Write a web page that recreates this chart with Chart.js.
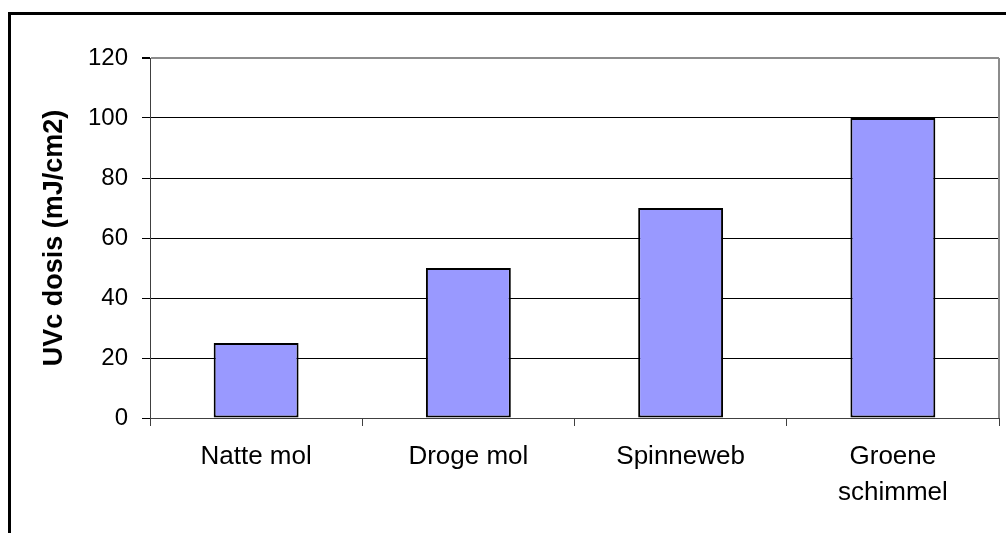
<!DOCTYPE html>
<html>
<head>
<meta charset="utf-8">
<script src="https://cdn.jsdelivr.net/npm/chart.js@4/dist/chart.umd.min.js"></script>
<style>
  html, body { margin: 0; padding: 0; background: #fff; }
  canvas { display: block; }
</style>
</head>
<body>
<canvas id="uvcChart" width="1006" height="533"></canvas>
<script>
// data
const categories = ["Natte mol", "Droge mol", "Spinneweb", ["Groene", "schimmel"]];
const doseValues = [25, 50, 70, 100];
const yTicks = [0, 20, 40, 60, 80, 100, 120];
const yTitle = "UVc dosis (mJ/cm2)";

const FONT = "'Liberation Sans', Arial, sans-serif";

// outer frame + grey plot border
const framePlugin = {
  id: "frame",
  beforeDraw(chart) {
    const ctx = chart.ctx;
    ctx.save();
    ctx.fillStyle = "#fff";
    ctx.fillRect(0, 0, chart.width, chart.height);
    ctx.restore();
  },
  afterDatasetsDraw(chart) {
    const { ctx, chartArea } = chart;
    ctx.save();
    ctx.strokeStyle = "#8c8c8c";
    ctx.lineWidth = 2;
    ctx.beginPath();
    ctx.moveTo(chartArea.right, chartArea.top);
    ctx.lineTo(chartArea.right, chartArea.bottom);
    ctx.stroke();
    ctx.strokeStyle = "#000";
    ctx.lineWidth = 3;
    ctx.strokeRect(9.5, 13.5, chart.width + 20, chart.height + 20);
    ctx.restore();
  },
};

const ctx = document.getElementById("uvcChart").getContext("2d");
new Chart(ctx, {
  type: "bar",
  data: {
    labels: categories,
    datasets: [
      {
        data: doseValues,
        backgroundColor: "#9999ff",
        borderColor: "#000",
        borderWidth: 2,
        borderSkipped: false,
        barPercentage: 0.4,
        categoryPercentage: 1,
      },
    ],
  },
  options: {
    responsive: false,
    animation: false,
    devicePixelRatio: 1,
    layout: { padding: { left: 0, top: 58, right: 7, bottom: 0 } },
    plugins: {
      legend: { display: false },
      tooltip: { enabled: false },
    },
    scales: {
      x: {
        offset: true,
        grid: {
          offset: true,
          drawOnChartArea: false,
          drawTicks: true,
          tickLength: 8,
          tickColor: "#404040",
        },
        border: { color: "#404040", width: 1 },
        ticks: {
          color: "#000",
          padding: 13,
          maxRotation: 0,
          font: { family: FONT, size: 26, lineHeight: "36px" },
        },
        afterFit(scale) {
          scale.height = 115;
        },
      },
      y: {
        min: yTicks[0],
        max: yTicks[yTicks.length - 1],
        afterBuildTicks(scale) {
          scale.ticks = yTicks.map((v) => ({ value: v }));
        },
        grid: {
          color: (c) => (c.tick && c.tick.value === 120 ? "#8c8c8c" : "#000"),
          lineWidth: (c) => (c.tick && c.tick.value === 120 ? 2 : 1),
          tickColor: "#000",
          tickLength: 8,
        },
        border: { color: "#404040", width: 1 },
        ticks: {
          color: "#000",
          padding: 14,
          font: { family: FONT, size: 24 },
        },
        title: {
          display: true,
          text: yTitle,
          color: "#000",
          padding: { top: 38, bottom: 0 },
          font: { family: FONT, size: 27, weight: "bold", lineHeight: 1.2 },
        },
        afterFit(scale) {
          scale.width = 150;
        },
      },
    },
  },
  plugins: [framePlugin],
});
</script>
</body>
</html>
